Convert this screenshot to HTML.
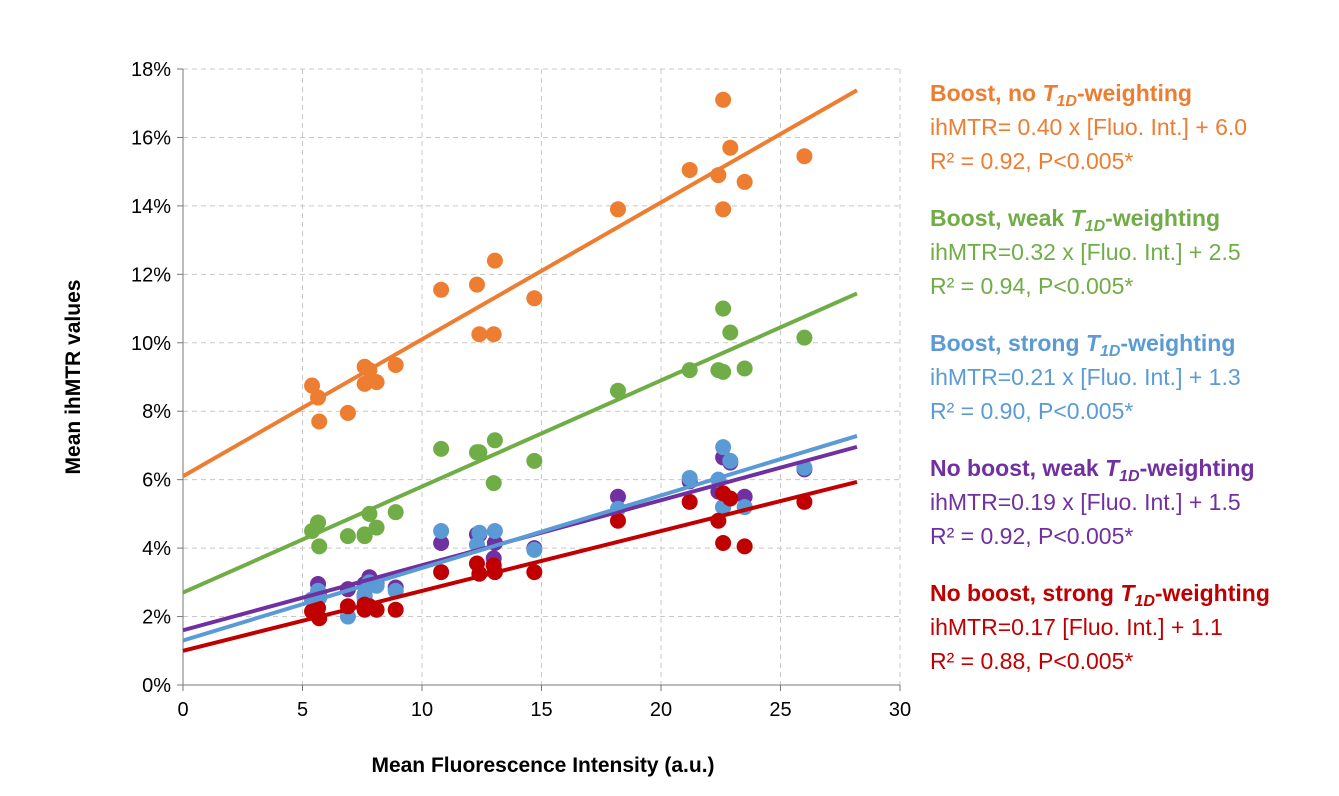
<!DOCTYPE html>
<html><head><meta charset="utf-8"><style>
body{margin:0;background:#fff;width:1339px;height:791px;overflow:hidden;font-family:"Liberation Sans",sans-serif}
svg text{font-family:"Liberation Sans",sans-serif}
</style></head><body>
<svg id="chart" width="1339" height="791">
<g id="grid"></g>
<g id="axes"></g>
<g id="marks"></g>
<g id="legend"></g>
<text x="80" y="377" transform="rotate(-90 80 377)" text-anchor="middle" font-size="21" font-weight="bold">Mean ihMTR values</text>
<text x="543" y="772" text-anchor="middle" font-size="21" font-weight="bold">Mean Fluorescence Intensity (a.u.)</text>
</svg>
<script>
const xValues=[5.4,5.65,5.7,6.9,7.6,7.6,7.8,8.1,8.9,10.8,12.3,12.4,13.05,13.0,14.7,18.2,21.2,22.4,22.6,22.6,22.9,23.5,26.0];
const orangeValues=[8.75,8.4,7.7,7.95,9.3,8.8,9.2,8.85,9.35,11.55,11.7,10.25,12.4,10.25,11.3,13.9,15.05,14.9,17.1,13.9,15.7,14.7,15.45];
const greenValues=[4.5,4.75,4.05,4.35,4.35,4.4,5.0,4.6,5.05,6.9,6.8,6.8,7.15,5.9,6.55,8.6,9.2,9.2,11.0,9.15,10.3,9.25,10.15];
const purpleValues=[2.5,2.95,2.6,2.8,2.6,2.95,3.15,2.95,2.85,4.15,4.4,4.4,4.15,3.7,4.0,5.5,5.95,5.65,6.65,5.2,6.5,5.5,6.3];
const blueValues=[2.5,2.75,2.55,2.0,2.5,2.65,3.0,2.9,2.75,4.5,4.1,4.45,4.5,3.5,3.95,5.15,6.05,6.0,6.95,5.2,6.55,5.2,6.35];
const redValues=[2.15,2.25,1.95,2.3,2.2,2.35,2.3,2.2,2.2,3.3,3.55,3.25,3.3,3.5,3.3,4.8,5.35,4.8,4.15,5.6,5.45,4.05,5.35];
// order: orange, green, purple, blue, red
const slopes=[0.40,0.31,0.19,0.212,0.175];
const intercepts=[6.1,2.7,1.6,1.3,1.0];
const xTicks=[0,5,10,15,20,25,30];
const yTicks=[0,2,4,6,8,10,12,14,16,18];
const seriesNames=["orange","green","purple","blue","red"];
const colors={orange:"#ED7D31",green:"#70AD47",purple:"#7030A0",blue:"#5B9BD5",red:"#C00000"};
const fitMax=28.2;
const legendTitles=["Boost, no ","Boost, weak ","Boost, strong ","No boost, weak ","No boost, strong "];
const legendEq=["ihMTR= 0.40 x [Fluo. Int.] + 6.0","ihMTR=0.32 x [Fluo. Int.] + 2.5","ihMTR=0.21 x [Fluo. Int.] + 1.3","ihMTR=0.19 x [Fluo. Int.] + 1.5","ihMTR=0.17 [Fluo. Int.] + 1.1"];
const legendR=["R² = 0.92, P<0.005*","R² = 0.94, P<0.005*","R² = 0.90, P<0.005*","R² = 0.92, P<0.005*","R² = 0.88, P<0.005*"];
const legendColors=["orange","green","blue","purple","red"];

const NS="http://www.w3.org/2000/svg";
const X0=183,X1=900,Y0=685,Y1=69;
const sx=v=>X0+(v-0)/(30-0)*(X1-X0);
const sy=v=>Y0-(v-0)/(18-0)*(Y0-Y1);
function mk(tag,attrs,parent){const e=document.createElementNS(NS,tag);for(const k in attrs)e.setAttribute(k,attrs[k]);parent.appendChild(e);return e;}
const grid=document.getElementById('grid'),axes=document.getElementById('axes'),marks=document.getElementById('marks'),legend=document.getElementById('legend');
yTicks.forEach(t=>{
  if(t>0){const l=mk('line',{x1:X0,x2:X1,y1:sy(t),y2:sy(t),stroke:'#c8c8c8','stroke-dasharray':'5,4','stroke-width':1},grid);
  
  }
  const tk=mk('line',{x1:X0-6,x2:X0,y1:sy(t),y2:sy(t),stroke:'#777'},axes);
  
  
  const tx=mk('text',{x:X0-12,y:sy(t)+7,'text-anchor':'end','font-size':20},axes);tx.textContent=t+'%';
  
  
});
xTicks.forEach(t=>{
  if(t>0){const l=mk('line',{x1:sx(t),x2:sx(t),y1:Y1,y2:Y0,stroke:'#c8c8c8','stroke-dasharray':'5,4','stroke-width':1},grid);
  
  }
  const tk=mk('line',{x1:sx(t),x2:sx(t),y1:Y0,y2:Y0+6,stroke:'#777'},axes);
  
  
  const tx=mk('text',{x:sx(t),y:Y0+31,'text-anchor':'middle','font-size':20},axes);tx.textContent=t;
  
  
});
const ya=mk('line',{x1:X0,x2:X0,y1:Y1,y2:Y0,stroke:'#777'},axes);


const xa=mk('line',{x1:X0,x2:X1,y1:Y0,y2:Y0,stroke:'#777'},axes);


const seriesData={orange:orangeValues,green:greenValues,purple:purpleValues,blue:blueValues,red:redValues};
seriesNames.forEach((s,i)=>{
  const g=mk('g',{},marks);
  
  
  seriesData[s].forEach((v,j)=>{
    const c=mk('circle',{cx:sx(xValues[j]),cy:sy(v),r:8,fill:colors[s]},g);
    
    
  });
});
// trendlines: orange, green, red, purple, blue (blue on top)
[0,1,4,2,3].forEach(i=>{
  const s=seriesNames[i];
  const l=mk('line',{x1:sx(0),y1:sy(intercepts[i]),x2:sx(fitMax),y2:sy(intercepts[i]+slopes[i]*fitMax),stroke:colors[s],'stroke-width':4},marks);
  
  
});
legendTitles.forEach((t,i)=>{
  const y=101+i*125,col=colors[legendColors[i]];
  const g=mk('g',{fill:col,'font-size':23},legend);
  
  
  const t1=mk('text',{x:930,y:y,'font-weight':'bold'},g);
  t1.innerHTML=t+'<tspan font-style="italic">T</tspan><tspan font-style="italic" font-size="16" dy="5">1D</tspan><tspan dy="-5">-weighting</tspan>';
  
  
  const t2=mk('text',{x:930,y:y+34},g);t2.textContent=legendEq[i];
  
  
  const t3=mk('text',{x:930,y:y+68},g);t3.textContent=legendR[i];
  
  
});
</script>
</body></html>
